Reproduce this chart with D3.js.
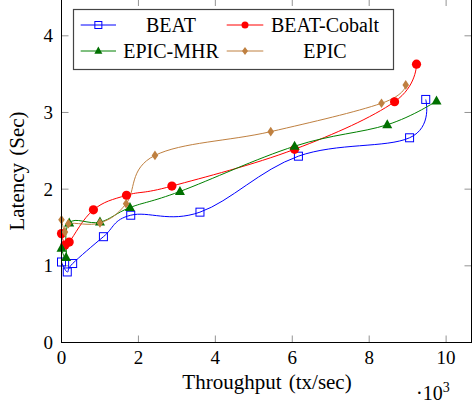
<!DOCTYPE html>
<html><head><meta charset="utf-8">
<script src="https://cdn.jsdelivr.net/npm/d3@7"></script>
<style>body{margin:0;background:#fff}svg{display:block}text{font-family:"Liberation Serif","Times New Roman",serif;fill:#000}</style>
</head><body><svg id="c" width="472" height="404"></svg>
<script>
const seriesNames = ["BEAT","BEAT-Cobalt","EPIC-MHR","EPIC"];
const beatX   = [0, 0.15, 0.29, 1.09, 1.80, 3.60, 6.16, 9.05, 9.47];
const beatY   = [1.05, 0.92, 1.03, 1.38, 1.66, 1.70, 2.43, 2.67, 3.17];
const cobaltX = [0, 0.09, 0.20, 0.83, 1.69, 2.87, 6.06, 8.66, 9.23];
const cobaltY = [1.42, 1.27, 1.31, 1.73, 1.92, 2.04, 2.52, 3.14, 3.63];
const mhrX    = [0, 0.12, 0.20, 1.00, 1.78, 3.08, 6.06, 8.47, 9.75];
const mhrY    = [1.23, 1.11, 1.56, 1.57, 1.76, 1.97, 2.56, 2.84, 3.15];
const epicX   = [0, 0.09, 0.18, 1.00, 1.68, 2.43, 5.44, 8.32, 8.95];
const epicY   = [1.60, 1.44, 1.55, 1.56, 1.81, 2.44, 2.75, 3.12, 3.36];
const xTicks = [0,2,4,6,8,10];
const yTicks = [0,1,2,3,4];
const xDomain = [0, 10.66];
const yDomain = [0, 4.48];

const svg = d3.select("#c");
const L = 61.5, R = 471.5, T = -1, B = 342.5;
const x = d3.scaleLinear().domain(xDomain).range([L, R]);
const y = d3.scaleLinear().domain(yDomain).range([B, T]);

const colors = ["#0000ff","#ff0000","#007000","#bf8040"];
const strokeC = ["#0000ff","#ff0000","#008000","#bf8040"];
const data = [
  d3.zip(beatX, beatY), d3.zip(cobaltX, cobaltY), d3.zip(mhrX, mhrY), d3.zip(epicX, epicY)
];

// pgfplots-style "smooth" curve (tension 0.55)
function PgfSmooth(ctx){ this._context = ctx; }
PgfSmooth.prototype = {
  areaStart(){}, areaEnd(){},
  lineStart(){ this._pts = []; },
  point(px, py){ this._pts.push([+px, +py]); },
  lineEnd(){
    const p = this._pts, c = this._context, n = p.length, f = 0.55 / 3;
    if (!n) return;
    c.moveTo(p[0][0], p[0][1]);
    for (let i = 0; i < n - 1; i++) {
      const a = p[i], b = p[i + 1];
      const c1 = i === 0 ? a : [a[0] + f * (b[0] - p[i - 1][0]), a[1] + f * (b[1] - p[i - 1][1])];
      const c2 = i + 1 === n - 1 ? b : [b[0] - f * (p[i + 2][0] - a[0]), b[1] - f * (p[i + 2][1] - a[1])];
      c.bezierCurveTo(c1[0], c1[1], c2[0], c2[1], b[0], b[1]);
    }
  }
};
const pgfSmooth = ctx => new PgfSmooth(ctx);

// ticks
const tk = 7;
const g = svg.append("g");
xTicks.forEach(v => {
  g.append("line").attr("x1", x(v)).attr("x2", x(v)).attr("y1", B).attr("y2", B - tk).attr("stroke","#777").attr("stroke-width",0.8);
  g.append("line").attr("x1", x(v)).attr("x2", x(v)).attr("y1", T).attr("y2", T + tk).attr("stroke","#777").attr("stroke-width",0.8);
  g.append("text").attr("x", x(v)).attr("y", 364).attr("text-anchor","middle").attr("font-size",19).text(v);
});
yTicks.forEach(v => {
  g.append("line").attr("x1", L).attr("x2", L + tk).attr("y1", y(v)).attr("y2", y(v)).attr("stroke","#777").attr("stroke-width",0.8);
  g.append("line").attr("x1", R).attr("x2", R - tk).attr("y1", y(v)).attr("y2", y(v)).attr("stroke","#777").attr("stroke-width",0.8);
  g.append("text").attr("x", 53).attr("y", y(v)).attr("dy","0.34em").attr("text-anchor","end").attr("font-size",19).text(v);
});

// lines
const line = d3.line().x(d => x(d[0])).y(d => y(d[1])).curve(pgfSmooth);
data.forEach((d, i) => {
  svg.append("path").attr("d", line(d)).attr("fill","none").attr("stroke", strokeC[i]).attr("stroke-width",1);
});

function marker(sel, i, cx, cy, legend) {
  if (i === 0) {
    const s = legend ? 7 : 8;
    sel.append("rect").attr("x", cx - s/2).attr("y", cy - s/2).attr("width", s).attr("height", s)
      .attr("fill","none").attr("stroke", colors[0]).attr("stroke-width",1);
  } else if (i === 1) {
    sel.append("circle").attr("cx", cx).attr("cy", cy).attr("r", legend ? 3.5 : 4.6).attr("fill", colors[1]);
  } else if (i === 2) {
    const r = legend ? 4 : 5;
    sel.append("path").attr("d", `M${cx},${cy - r*1.1}L${cx + r},${cy + r*0.7}L${cx - r},${cy + r*0.7}Z`).attr("fill", colors[2]);
  } else {
    const w = legend ? 3 : 3.3, h = legend ? 4 : 4.8;
    sel.append("path").attr("d", `M${cx},${cy - h}L${cx + w},${cy}L${cx},${cy + h}L${cx - w},${cy}Z`).attr("fill", colors[3]);
  }
}
data.forEach((d, i) => {
  const mg = svg.append("g");
  d.forEach(p => marker(mg, i, x(p[0]), y(p[1]), false));
});

// frame
svg.append("rect").attr("x", L).attr("y", T).attr("width", R - L).attr("height", B - T)
  .attr("fill","none").attr("stroke","#000").attr("stroke-width",1);

// legend
const lg = svg.append("g");
lg.append("rect").attr("x",73.5).attr("y",9.5).attr("width",320).attr("height",60)
  .attr("fill","#fff").attr("stroke","#444").attr("stroke-width",1.2);
const cols = [{lx1:80.7, lx2:116, tc:171},{lx1:226.7, lx2:263.3, tc:325}];
const rows = [25, 51];
seriesNames.forEach((n, i) => {
  const c = cols[i % 2], ry = rows[Math.floor(i / 2)];
  lg.append("line").attr("x1", c.lx1).attr("x2", c.lx2).attr("y1", ry).attr("y2", ry).attr("stroke", strokeC[i]).attr("stroke-width",1);
  marker(lg, i, (c.lx1 + c.lx2) / 2, ry, true);
  lg.append("text").attr("x", c.tc).attr("y", ry + 7).attr("text-anchor","middle").attr("font-size",20).text(n);
});

// axis labels
svg.append("text").attr("x", 267).attr("y", 389).attr("text-anchor","middle").attr("font-size",21).attr("word-spacing",2).text("Throughput (tx/sec)");
const sc = svg.append("text").attr("x", 416).attr("y", 400).attr("font-size",20);
sc.append("tspan").text("·10");
sc.append("tspan").attr("dy",-8).attr("font-size",14).text("3");
svg.append("text").attr("transform","translate(24,171) rotate(-90)").attr("text-anchor","middle").attr("font-size",21).attr("word-spacing",2).text("Latency (Sec)");
</script></body></html>
